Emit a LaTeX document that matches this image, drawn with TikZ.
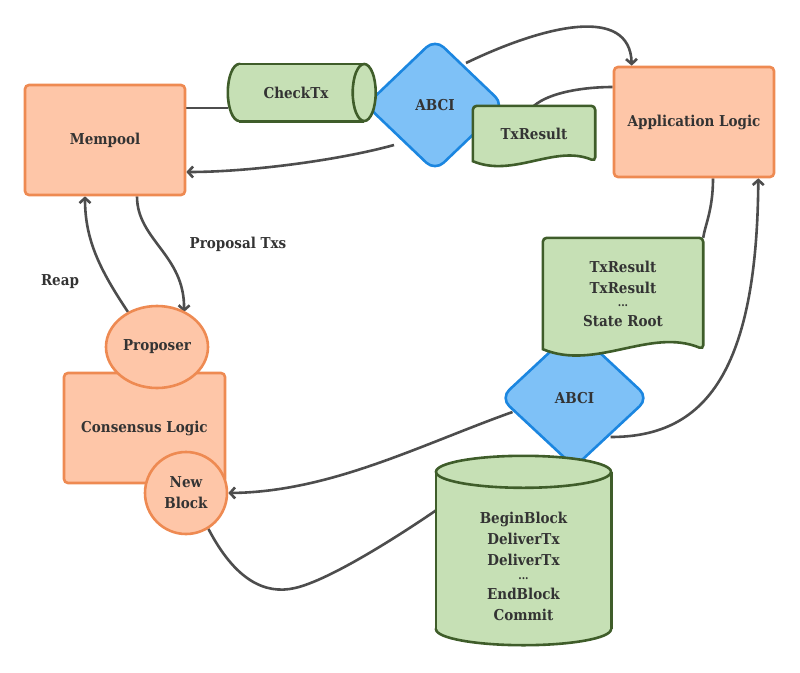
\documentclass[tikz,border=0pt]{standalone}
\usepackage{fontspec}
\setmainfont{DejaVu Serif Condensed}
\usetikzlibrary{shapes.geometric,arrows.meta,calc,backgrounds}
\pgfdeclarelayer{conn}
\pgfdeclarelayer{dia}
\pgfdeclarelayer{shp}
\pgfsetlayers{conn,dia,shp,main}
\definecolor{orfill}{HTML}{FEC6A8}
\definecolor{ordraw}{HTML}{EE8A52}
\definecolor{grfill}{HTML}{C6E0B5}
\definecolor{grdraw}{HTML}{3F5D2A}
\definecolor{blfill}{HTML}{7EC1F7}
\definecolor{bldraw}{HTML}{1B86E0}
\definecolor{lnc}{HTML}{4D4D4D}
\definecolor{txtc}{HTML}{333333}
\begin{document}
\begin{tikzpicture}[x=1pt,y=-1pt,
  font=\fontsize{15}{21}\selectfont\bfseries, text=txtc,
  obox/.style={draw=ordraw, fill=orfill, line width=2.6pt, rounded corners=4pt,
    minimum width=160pt, minimum height=110pt, inner sep=0pt, align=center},
  oell/.style={draw=ordraw, fill=orfill, line width=2.6pt, ellipse, inner sep=0pt, align=center},
  dstyle/.style={draw=bldraw, fill=blfill, line width=2.6pt, diamond, rounded corners=12pt, inner sep=0pt},
  tbox/.style={inner sep=0pt, align=center},
  grshape/.style={draw=grdraw, fill=grfill, line width=2.6pt},
  grline/.style={draw=grdraw, line width=2.6pt},
  conn/.style={draw=lnc, line width=2.6pt},
  arr/.style={conn, -{Straight Barb[length=5pt,width=11pt]}},
  lbl/.style={inner sep=0pt}
]
\useasboundingbox (0,0) rectangle (800,672);

% diamonds
\begin{pgfonlayer}{dia}
\node[dstyle, minimum width=139pt, minimum height=133pt] (abci1) at (435,105) {ABCI};
\node[dstyle, minimum width=149pt, minimum height=139pt] (abci2) at (574.5,398) {ABCI};
\end{pgfonlayer}

% boxes
\node[obox] (mempool) at (105,140) {Mempool};
\node[obox] (applogic) at (694,122) {Application Logic};
\node[obox, minimum width=161pt] (consensus) at (144.5,428) {Consensus Logic};
\node[oell, minimum width=102pt, minimum height=82pt] (proposer) at (157,347) {Proposer};
\node[oell, circle, minimum size=82pt] (newblock) at (186,493) {New\\Block};

% text holders for drawn shapes
\node[tbox, minimum width=136pt, minimum height=57pt] (checktx) at (296,92.5) {CheckTx};
\node[tbox, minimum width=122pt, minimum height=55pt] (doc1) at (534,133.5) {TxResult};
\node[tbox, minimum width=160pt, minimum height=111pt] (doc2) at (623,293.5)
  {TxResult\\TxResult\\[-8pt]{\fontsize{11}{11}\selectfont ...}\\[-1pt]State Root};
\node[tbox, minimum width=175pt, minimum height=157pt] (cyl) at (523.5,566.5)
  {BeginBlock\\DeliverTx\\DeliverTx\\[-7pt]{\fontsize{11}{11}\selectfont ...}\\[-1pt]EndBlock\\Commit};

\begin{pgfonlayer}{shp}
% CheckTx cylinder (horizontal)
\path[grshape] ($(checktx.west)+(11.5,0)$) ellipse [x radius=11.5pt, y radius=28.5pt];
\fill[grfill] ($(checktx.north west)+(11.5,0)$) rectangle (checktx.south east);
\path[grline] ($(checktx.north west)+(11.5,0)$) -- (checktx.north east)
              ($(checktx.south west)+(11.5,0)$) -- (checktx.south east);
\path[grshape] (checktx.east) ellipse [x radius=11.5pt, y radius=28.5pt];
% TxResult document
\path[grshape, rounded corners=4pt] (doc1.south west) -- (doc1.north west) -- (doc1.north east) -- (doc1.south east)
  [sharp corners] .. controls ($(doc1.south west)!0.67!(doc1.south east)+(0,-17)$)
  and ($(doc1.south west)!0.33!(doc1.south east)+(0,17)$) .. (doc1.south west) -- cycle;
% TxResult list document
\path[grshape, rounded corners=4pt] (doc2.south west) -- (doc2.north west) -- (doc2.north east) -- (doc2.south east)
  [sharp corners] .. controls ($(doc2.south west)!0.67!(doc2.south east)+(0,-22)$)
  and ($(doc2.south west)!0.33!(doc2.south east)+(0,22)$) .. (doc2.south west) -- cycle;
% block cylinder (vertical)
\path[grshape] ($(cyl.south)+(0,-16)$) ellipse [x radius=87.5pt, y radius=16pt];
\fill[grfill] ($(cyl.north west)+(0,-16)$) rectangle ($(cyl.south east)+(0,-16)$);
\path[grline] ($(cyl.north west)+(0,-16)$) -- ($(cyl.south west)+(0,-16)$)
              ($(cyl.north east)+(0,-16)$) -- ($(cyl.south east)+(0,-16)$);
\path[grshape] ($(cyl.north)+(0,-16)$) ellipse [x radius=87.5pt, y radius=16pt];
\end{pgfonlayer}

% labels
\node[lbl] (reap) at (60,282) {Reap};
\node[lbl] (proptxs) at (238,244) {Proposal Txs};

% connectors
\begin{pgfonlayer}{conn}
\path[conn] ($(mempool.east)+(0,-32)$) -- ($(checktx.west)+(0,15.5)$);
\path[arr] ($(abci1)+(31,-42)$) .. controls (545,25) and (630,5) .. ($(applogic.north west)+(19,0)$);
\path[conn] (doc1.north) .. controls (550,92) and (585,87) .. ($(applogic.west)+(0,-35)$);
\path[arr] ($(abci1)+(-41,40)$) .. controls (340,160) and (250,172) .. ($(mempool.east)+(0,32)$);
\path[arr] ($(proposer)+(-29,-35)$) .. controls (100,270) and (85,240) .. ($(mempool.south)+(-20,0)$);
\path[arr] ($(mempool.south)+(32,0)$) .. controls (137,240) and (185,255) .. ($(proposer)+(27,-35)$);
\path[conn] ($(applogic.south)+(19,0)$) .. controls (713,210) and (705,225) .. (doc2.north east);
\path[arr] ($(abci2)+(36,39)$) .. controls (700,437) and (757,380) .. ($(applogic.south east)+(-17,0)$);
\path[arr] ($(abci2)+(-62,14)$) .. controls (420,445) and (330,492) .. (newblock.east);
\path[conn] (newblock.-58) .. controls (235,580) and (265,595) .. (295,588)
  .. controls (330,580) and (400,535) .. ($(cyl.west)+(0,-56)$);
\end{pgfonlayer}
\end{tikzpicture}
\end{document}
